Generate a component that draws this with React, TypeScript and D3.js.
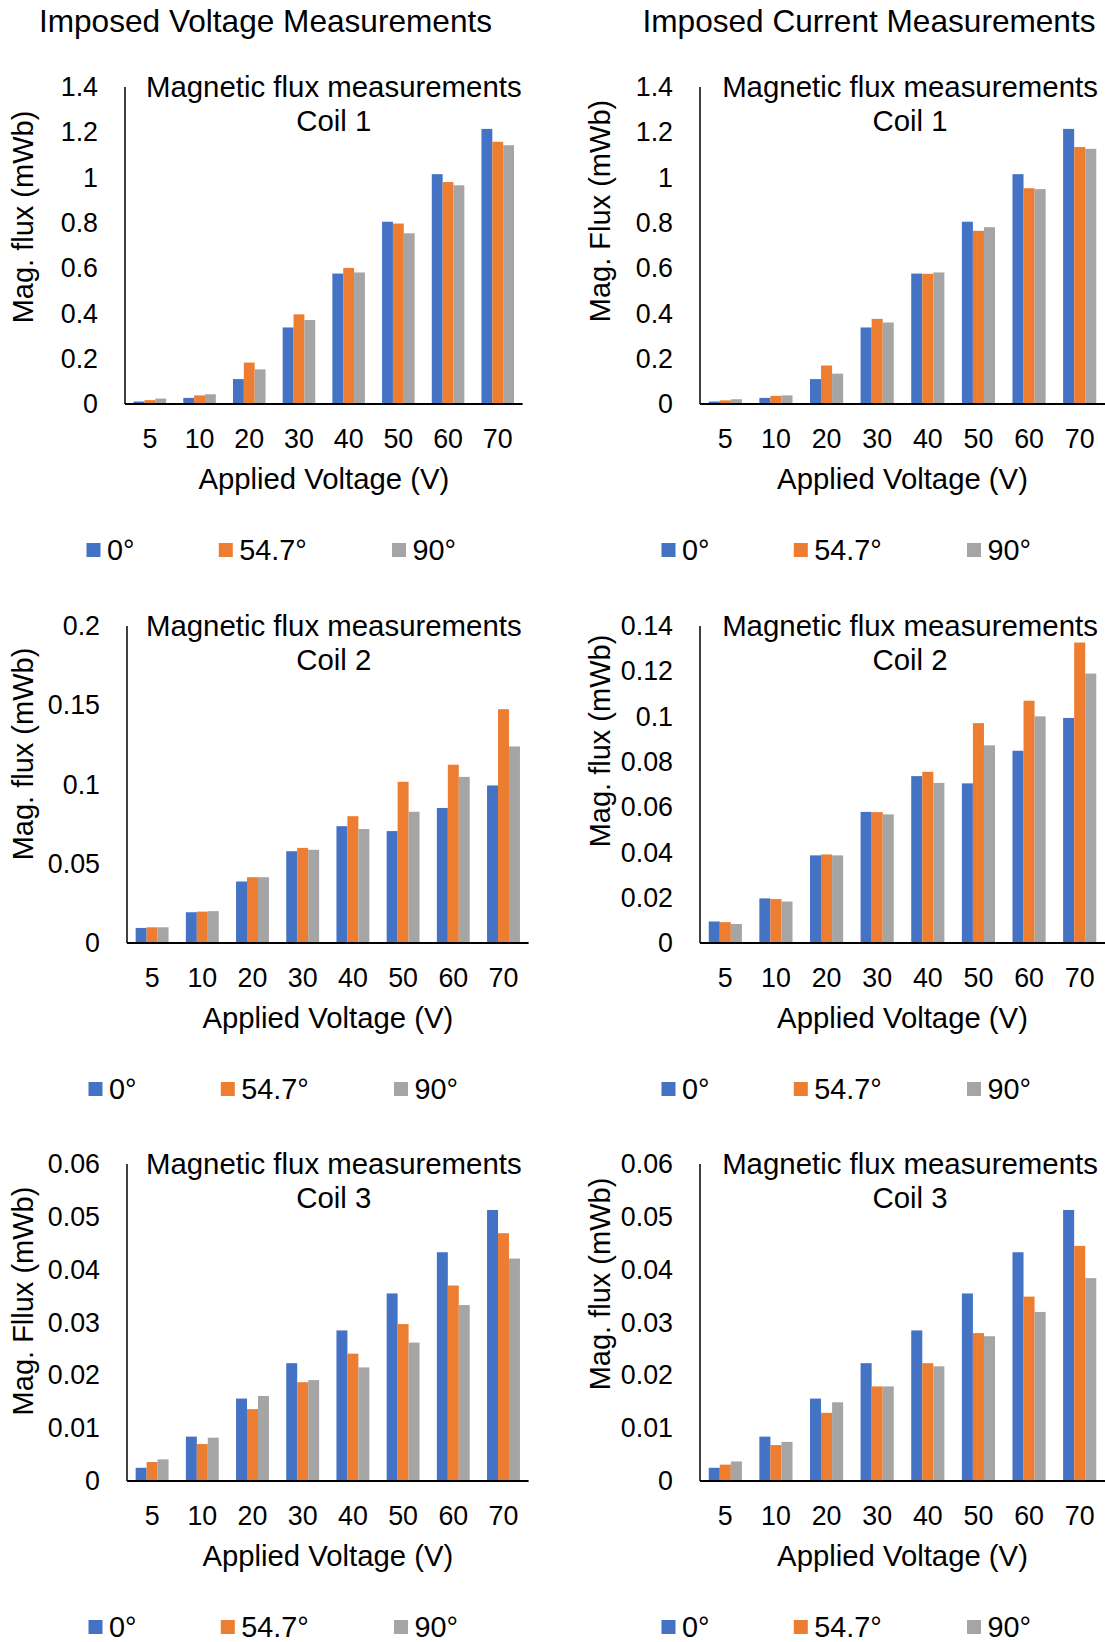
import React from "react";
import * as d3 from "d3";

const categories = ["5", "10", "20", "30", "40", "50", "60", "70"];
const seriesNames = ["0°", "54.7°", "90°"];
const seriesColors = ["#4472C4", "#ED7D31", "#A5A5A5"];

// Imposed voltage
const voltCoil1_0 = [0.011, 0.027, 0.11, 0.338, 0.576, 0.805, 1.015, 1.215];
const voltCoil1_547 = [0.017, 0.038, 0.183, 0.396, 0.601, 0.797, 0.98, 1.158];
const voltCoil1_90 = [0.024, 0.043, 0.153, 0.371, 0.581, 0.754, 0.966, 1.143];
const voltCoil2_0 = [0.0095, 0.0194, 0.0388, 0.0579, 0.0737, 0.0706, 0.0852, 0.0994];
const voltCoil2_547 = [0.0099, 0.0198, 0.0415, 0.06, 0.08, 0.1017, 0.1125, 0.1475];
const voltCoil2_90 = [0.0099, 0.0201, 0.0415, 0.0588, 0.0719, 0.0828, 0.1048, 0.124];
const voltCoil3_0 = [0.0025, 0.0084, 0.0156, 0.0223, 0.0285, 0.0355, 0.0433, 0.0513];
const voltCoil3_547 = [0.0036, 0.007, 0.0136, 0.0187, 0.0241, 0.0297, 0.037, 0.0469];
const voltCoil3_90 = [0.0041, 0.0082, 0.0161, 0.0191, 0.0215, 0.0262, 0.0333, 0.0421];

// Imposed current
const currCoil1_0 = [0.011, 0.027, 0.11, 0.338, 0.576, 0.805, 1.015, 1.215];
const currCoil1_547 = [0.016, 0.036, 0.17, 0.376, 0.575, 0.765, 0.953, 1.135];
const currCoil1_90 = [0.021, 0.038, 0.134, 0.36, 0.581, 0.781, 0.949, 1.127];
const currCoil2_0 = [0.0095, 0.0197, 0.0387, 0.0579, 0.0737, 0.0705, 0.0849, 0.0994];
const currCoil2_547 = [0.0092, 0.0194, 0.0391, 0.0578, 0.0756, 0.0971, 0.107, 0.1327];
const currCoil2_90 = [0.0084, 0.0183, 0.0387, 0.0568, 0.0707, 0.0873, 0.1001, 0.119];
const currCoil3_0 = [0.0025, 0.0084, 0.0156, 0.0223, 0.0285, 0.0355, 0.0433, 0.0513];
const currCoil3_547 = [0.0031, 0.0068, 0.0129, 0.0179, 0.0223, 0.028, 0.0349, 0.0445];
const currCoil3_90 = [0.0037, 0.0074, 0.0149, 0.0179, 0.0217, 0.0274, 0.032, 0.0384];

const ticksCoil1 = [0, 0.2, 0.4, 0.6, 0.8, 1, 1.2, 1.4];
const ticksCoil2Volt = [0, 0.05, 0.1, 0.15, 0.2];
const ticksCoil2Curr = [0, 0.02, 0.04, 0.06, 0.08, 0.1, 0.12, 0.14];
const ticksCoil3 = [0, 0.01, 0.02, 0.03, 0.04, 0.05, 0.06];

const FONT = "'Liberation Sans', Arial, Helvetica, sans-serif";

type PanelProps = {
  x0: number;
  x1: number;
  yT: number;
  yB: number;
  ticks: number[];
  series: number[][];
  coil: string;
  titleX: number;
  yTitle: string;
  yTitleX: number;
  yTitleY: number;
};

function Panel(p: PanelProps) {
  const yMax = p.ticks[p.ticks.length - 1];
  const y = d3.scaleLinear().domain([0, yMax]).range([p.yB, p.yT]);
  const x = d3
    .scaleBand<string>()
    .domain(categories)
    .range([p.x0, p.x1])
    .paddingInner(0.345)
    .paddingOuter(0.1725);
  const xs = d3
    .scaleBand<string>()
    .domain(seriesNames)
    .range([0, x.bandwidth()]);
  const cx = (p.x0 + p.x1) / 2;
  const fmt = (v: number) => String(parseFloat(v.toFixed(4)));
  return (
    <g>
      {p.series.map((vals, si) =>
        vals.map((v, ci) => (
          <rect
            key={`${si}-${ci}`}
            x={(x(categories[ci]) as number) + (xs(seriesNames[si]) as number)}
            y={y(v)}
            width={xs.bandwidth()}
            height={p.yB - y(v)}
            fill={seriesColors[si]}
          />
        ))
      )}
      <line x1={p.x0} x2={p.x0} y1={p.yT} y2={p.yB} stroke="#000" strokeWidth={1.5} />
      <line x1={p.x0} x2={p.x1} y1={p.yB} y2={p.yB} stroke="#000" strokeWidth={2} />
      {p.ticks.map((t) => (
        <text
          key={t}
          x={p.x0 - 27}
          y={y(t)}
          dy="0.34em"
          textAnchor="end"
          fontSize={26.8}
          fontFamily={FONT}
          fill="#000"
        >
          {fmt(t)}
        </text>
      ))}
      {categories.map((c) => (
        <text
          key={c}
          x={(x(c) as number) + x.bandwidth() / 2}
          y={p.yB + 44}
          textAnchor="middle"
          fontSize={26.8}
          fontFamily={FONT}
          fill="#000"
        >
          {c}
        </text>
      ))}
      <text x={p.titleX} y={p.yT + 10} textAnchor="middle" fontSize={29.4} fontFamily={FONT} fill="#000">
        Magnetic flux measurements
      </text>
      <text x={p.titleX} y={p.yT + 44} textAnchor="middle" fontSize={29.4} fontFamily={FONT} fill="#000">
        {p.coil}
      </text>
      <text x={cx} y={p.yB + 85} textAnchor="middle" fontSize={29.3} fontFamily={FONT} fill="#000">
        Applied Voltage (V)
      </text>
      <text
        transform={`translate(${p.yTitleX},${p.yTitleY}) rotate(-90)`}
        dy="0.35em"
        textAnchor="middle"
        fontSize={29}
        fontFamily={FONT}
        fill="#000"
      >
        {p.yTitle}
      </text>
      {seriesNames.map((s, i) => {
        const lx = p.x0 + [-38.5, 93.8, 267][i];
        const ly = p.yB + 146;
        return (
          <g key={s}>
            <rect x={lx} y={ly - 7} width={14} height={14} fill={seriesColors[i]} />
            <text x={lx + 20.5} y={ly + 10} fontSize={28.8} fontFamily={FONT} fill="#000">
              {s}
            </text>
          </g>
        );
      })}
    </g>
  );
}

export default function App() {
  return (
    <div style={{ position: "absolute", left: 0, top: 0 }}>
      <svg width={1105} height={1642} viewBox="0 0 1105 1642" style={{ display: "block", background: "#fff" }}>
        <rect x={0} y={0} width={1105} height={1642} fill="#fff" />
        <text x={265.5} y={32} textAnchor="middle" fontSize={31.6} fontFamily={FONT} fill="#000">
          Imposed Voltage Measurements
        </text>
        <text x={869} y={32} textAnchor="middle" fontSize={31.6} fontFamily={FONT} fill="#000">
          Imposed Current Measurements
        </text>
        <Panel
          x0={125} x1={522.6} yT={87} yB={404}
          ticks={ticksCoil1}
          series={[voltCoil1_0, voltCoil1_547, voltCoil1_90]}
          coil="Coil 1" titleX={333.8} yTitle="Mag. flux (mWb)" yTitleX={23} yTitleY={217}
        />
        <Panel
          x0={700} x1={1105} yT={87} yB={404}
          ticks={ticksCoil1}
          series={[currCoil1_0, currCoil1_547, currCoil1_90]}
          coil="Coil 1" titleX={910} yTitle="Mag. Flux (mWb)" yTitleX={600} yTitleY={211}
        />
        <Panel
          x0={127} x1={528.6} yT={626} yB={943}
          ticks={ticksCoil2Volt}
          series={[voltCoil2_0, voltCoil2_547, voltCoil2_90]}
          coil="Coil 2" titleX={333.8} yTitle="Mag. flux (mWb)" yTitleX={23} yTitleY={754}
        />
        <Panel
          x0={700} x1={1105} yT={626} yB={943}
          ticks={ticksCoil2Curr}
          series={[currCoil2_0, currCoil2_547, currCoil2_90]}
          coil="Coil 2" titleX={910} yTitle="Mag. flux (mWb)" yTitleX={600} yTitleY={741}
        />
        <Panel
          x0={127} x1={528.6} yT={1164} yB={1481}
          ticks={ticksCoil3}
          series={[voltCoil3_0, voltCoil3_547, voltCoil3_90]}
          coil="Coil 3" titleX={333.8} yTitle="Mag. Fllux (mWb)" yTitleX={23} yTitleY={1301}
        />
        <Panel
          x0={700} x1={1105} yT={1164} yB={1481}
          ticks={ticksCoil3}
          series={[currCoil3_0, currCoil3_547, currCoil3_90]}
          coil="Coil 3" titleX={910} yTitle="Mag. flux (mWb)" yTitleX={600} yTitleY={1284}
        />
      </svg>
    </div>
  );
}
